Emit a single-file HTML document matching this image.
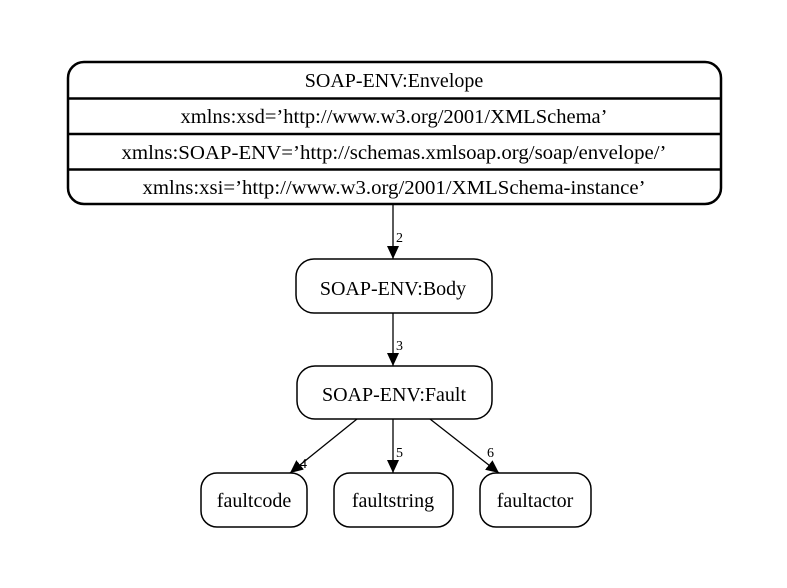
<!DOCTYPE html>
<html><head><style>
html,body{margin:0;padding:0;background:#fff;}
svg{display:block;}
text{font-family:"Liberation Serif",serif;fill:#000;}
</style></head><body>
<svg width="787" height="588" viewBox="0 0 787 588" xmlns="http://www.w3.org/2000/svg">
<defs>
<marker id="a" markerWidth="14" markerHeight="14" refX="13" refY="6" orient="auto" markerUnits="userSpaceOnUse">
<path d="M0,0 L13,6 L0,12 z" fill="#000"/>
</marker>
</defs>
<rect x="68" y="62" width="653" height="142" rx="16" ry="16" fill="none" stroke="#000" stroke-width="2.5"/>
<line x1="68" y1="98.5" x2="721" y2="98.5" stroke="#000" stroke-width="2.5"/>
<line x1="68" y1="134" x2="721" y2="134" stroke="#000" stroke-width="2.5"/>
<line x1="68" y1="169.5" x2="721" y2="169.5" stroke="#000" stroke-width="2.5"/>
<g font-size="20" text-anchor="middle">
<text x="394" y="87">SOAP-ENV:Envelope</text>
<text x="394" y="123" textLength="427" lengthAdjust="spacingAndGlyphs">xmlns:xsd=’http://www.w3.org/2001/XMLSchema’</text>
<text x="394" y="159" textLength="545" lengthAdjust="spacingAndGlyphs">xmlns:SOAP-ENV=’http://schemas.xmlsoap.org/soap/envelope/’</text>
<text x="394" y="194" textLength="503" lengthAdjust="spacingAndGlyphs">xmlns:xsi=’http://www.w3.org/2001/XMLSchema-instance’</text>
</g>
<g fill="none" stroke="#000" stroke-width="1.5">
<rect x="296" y="259" width="196" height="54" rx="18"/>
<rect x="297" y="366" width="195" height="53" rx="18"/>
<rect x="201" y="473" width="106" height="54" rx="16"/>
<rect x="334" y="473" width="119" height="54" rx="16"/>
<rect x="480" y="473" width="111" height="54" rx="16"/>
</g>
<g stroke="#000" stroke-width="1.3" marker-end="url(#a)">
<line x1="393" y1="205" x2="393" y2="259"/>
<line x1="393" y1="313" x2="393" y2="366"/>
<line x1="357" y1="419" x2="290" y2="473"/>
<line x1="393" y1="419" x2="393" y2="473"/>
<line x1="430" y1="419" x2="499" y2="473"/>
</g>
<g font-size="20" text-anchor="middle">
<text x="393" y="295">SOAP-ENV:Body</text>
<text x="394" y="401">SOAP-ENV:Fault</text>
<text x="254" y="507">faultcode</text>
<text x="393" y="507">faultstring</text>
<text x="535" y="507">faultactor</text>
</g>
<g font-size="14">
<text x="396" y="242">2</text>
<text x="396" y="350">3</text>
<text x="300" y="468">4</text>
<text x="396" y="457">5</text>
<text x="487" y="457">6</text>
</g>
</svg>
</body></html>
